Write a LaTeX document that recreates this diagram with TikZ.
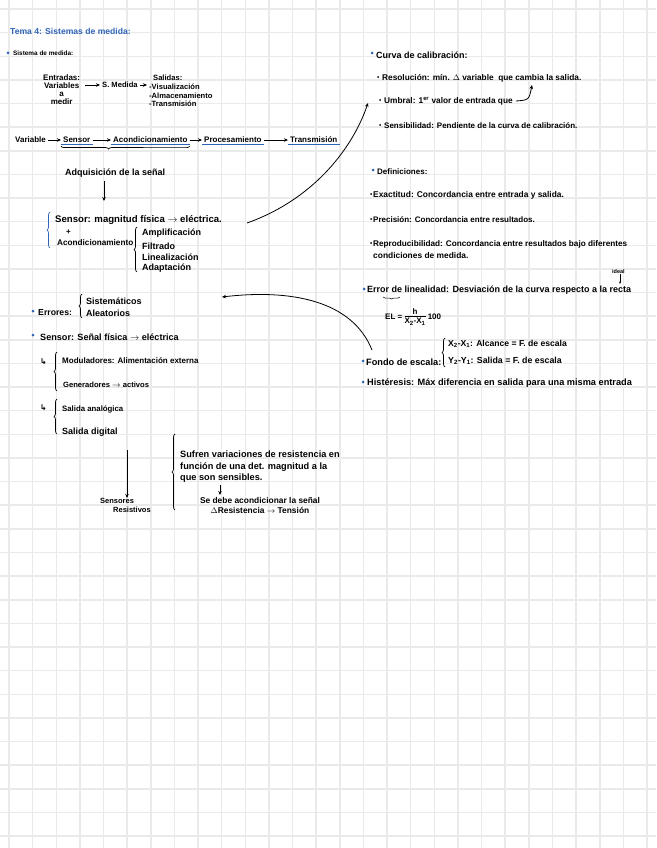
\documentclass[tikz,border=0pt]{standalone}
\usepackage{fontspec}
\setmainfont{Liberation Sans}
\newfontfamily\symfont{DejaVu Sans}
\usetikzlibrary{arrows.meta,positioning,decorations.pathreplacing}
\definecolor{inkblue}{HTML}{2F63B5}
\definecolor{gridgray}{HTML}{EAEAEA}
\newcommand{\hand}{\fontsize{8.2}{9}\selectfont\bfseries}
\newcommand{\hook}{{\symfont\fontsize{8}{8}\selectfont ↳}}
\tikzset{
  txt/.style={anchor=west, inner sep=0pt, font=\hand},
  fs/.style={font=\fontsize{#1}{10}\selectfont\bfseries},
  chain/.style={anchor=west, inner xsep=2pt, inner ysep=1pt, fs=8},
  bdot/.style={circle, fill=inkblue, inner sep=0pt, minimum size=3pt},
  kdot/.style={circle, fill=black, inner sep=0pt, minimum size=2pt},
  uline/.style={inkblue, line width=1pt},
  brc/.style={decorate, decoration={brace, amplitude=3pt}, line width=0.7pt},
  ink/.style={line width=0.8pt, -{Stealth[length=4pt,width=3.5pt]}},
}
\begin{document}
\begin{tikzpicture}[x=1pt, y=-1pt]
  \useasboundingbox (0,0) rectangle (656,848);
  % squared paper
  \foreach \k in {0,...,27}
    \draw[gridgray, line width=1.5pt] ({9+23.63*\k},0) -- ({9+23.63*\k},848);
  \foreach \k in {0,...,35}
    \draw[gridgray, line width=1.5pt] (0,{9+23.63*\k}) -- (656,{9+23.63*\k});

  % title
  \node[txt, inkblue, fs=8.6] (title) at (10,31) {Tema 4: Sistemas de medida:};

  % sistema de medida
  \node[bdot] (d1) at (8,53) {};
  \node[txt, fs=6.4] (sm) at (13,53) {Sistema de medida:};
  \node[txt, align=center, font=\fontsize{8}{8}\selectfont\bfseries] (ent) at (43,90) {Entradas:\\Variables\\a\\medir};
  \node[chain, fs=7.6] (smed) at (100,85) {S. Medida};
  \node[txt, align=left, font=\fontsize{7.6}{8.6}\selectfont\bfseries] (sal) at (149,91)
    {\hspace*{4pt}Salidas:\\-Visualización\\-Almacenamiento\\-Transmisión};
  \draw[ink] (ent.east |- smed.west) ++(5pt,0) -- (smed.west);
  \draw[ink] (smed.east) -- ([xshift=-2pt]sal.west |- smed.east);

  % cadena de medida
  \node[chain] (var) at (13,140) {Variable};
  \node[chain] (sen) at (61,140) {Sensor};
  \node[chain] (aco) at (111,140) {Acondicionamiento};
  \node[chain] (pro) at (202,140) {Procesamiento};
  \node[chain] (tra) at (288,140) {Transmisión};
  \foreach \a/\b in {var/sen, sen/aco, aco/pro, pro/tra}
    \draw[ink] (\a) -- (\b);
  \foreach \n in {sen, aco, pro, tra}
    \draw[uline] (\n.south west) -- (\n.south east);
  \draw[brc, decoration={aspect=0.63}] ([yshift=-2pt]aco.south east) -- ([yshift=-2pt]sen.south west);
  \node[txt, fs=9] (adq) at (65,173) {Adquisición de la señal};
  \coordinate (adqend) at (104,201);
  \draw[ink] (adq.south -| adqend) ++(0,4) -- (adqend);

  % sensor + acondicionamiento
  \node[txt, fs=9.6] (sensl) at (55,220) {Sensor: magnitud física $\rightarrow$ eléctrica.};
  \node[txt, fs=8] (plus) at (66,232) {+};
  \node[txt, fs=8.2] (acol) at (57,243) {Acondicionamiento};
  \draw[brc, inkblue] (50,248) -- (50,212);
  \draw[brc] (137,272) -- (137,227);
  \node[txt, fs=9] (amp) at (142,233) {Amplificación};
  \node[txt, fs=9] (fil) at (142,246) {Filtrado};
  \node[txt, fs=9] (lin) at (142,257) {Linealización};
  \node[txt, fs=9] (ada) at (142,268) {Adaptación};
  \coordinate (arcA) at (247,223);
  \coordinate (arcB) at (368,103);
  \draw[ink] (arcA) .. controls (312,200) and (352,150) .. (arcB);

  % errores
  \node[bdot] (d2) at (33,311) {};
  \node[txt, fs=8.7] (err) at (38,313) {Errores:};
  \draw[brc] (82,318) -- (82,294);
  \node[txt, fs=9] (sis) at (86,301) {Sistemáticos};
  \node[txt, fs=9] (ale) at (86,313) {Aleatorios};
  \coordinate (arcC) at (372,350);
  \coordinate (arcD) at (222,297);
  \draw[ink] (arcC) .. controls (352,300) and (290,289) .. (arcD);

  % sensor: tipos
  \node[bdot] (d3) at (33,335) {};
  \node[txt, fs=9.1] (sen2) at (40,337) {Sensor: Señal física $\rightarrow$ eléctrica};
  \node[txt] (h1) at (40,362) {\hook};
  \draw[brc] (57,391) -- (57,352);
  \node[txt, fs=8] (mod) at (62,361) {Moduladores: Alimentación externa};
  \node[txt, fs=7.6] (gen) at (63,385) {Generadores $\rightarrow$ activos};
  \node[txt] (h2) at (40,408) {\hook};
  \draw[brc] (57,434) -- (57,399);
  \node[txt, fs=7.8] (san) at (62,409) {Salida analógica};
  \node[txt, fs=9] (sdi) at (62,432) {Salida digital};
  \node[txt, anchor=north west, align=left, font=\fontsize{7.5}{9}\selectfont\bfseries] (sr) at (100,498) {Sensores\\\hspace*{13pt}Resistivos};
  \coordinate (srtop) at (127,450);
  \draw[ink] (srtop) -- (sr.north -| srtop);
  \draw[brc] (175,510) -- (175,434);
  \node[txt, anchor=north west, align=left, font=\fontsize{9.2}{11.5}\selectfont\bfseries] (suf) at (180,451)
    {Sufren variaciones de resistencia en\\función de una det. magnitud a la\\que son sensibles.};
  \node[txt, anchor=north, align=center, font=\fontsize{8.4}{10.5}\selectfont\bfseries] (deb) at (260,497)
    {Se debe acondicionar la señal\\$\Delta$Resistencia $\rightarrow$ Tensión};
  \coordinate (sufdown) at (220,0);
  \draw[ink, line width=0.6pt] ([yshift=-2pt]suf.south -| sufdown) -- ([yshift=2pt]deb.north -| sufdown);

  % curva de calibracion
  \node[bdot] (d4) at (372,53) {};
  \node[txt, fs=9] (cur) at (376,55) {Curva de calibración:};
  \node[kdot] (k1) at (378,77) {};
  \node[txt, fs=8.3] (res) at (382,78) {Resolución: mín. $\Delta$ variable \ que cambia la salida.};
  \node[kdot] (k2) at (380,100) {};
  \node[txt, fs=8.3] (umb) at (384,101) {Umbral: 1\textsuperscript{er} valor de entrada que};
  \coordinate (cambia) at (532,85);
  \draw[ink] ([xshift=3pt]umb.east) .. controls (529,100) .. (cambia);
  \node[kdot] (k3) at (380,125) {};
  \node[txt, fs=8] (sib) at (384,126) {Sensibilidad: Pendiente de la curva de calibración.};

  % definiciones
  \node[bdot] (d5) at (373,170) {};
  \node[txt, fs=8] (def) at (377,172) {Definiciones:};
  \node[kdot] (k4) at (371,194) {};
  \node[txt, fs=8.4] (exa) at (373,195) {Exactitud: Concordancia entre entrada y salida.};
  \node[kdot] (k5) at (371,219) {};
  \node[txt, fs=8] (pre) at (373,220) {Precisión: Concordancia entre resultados.};
  \node[kdot] (k6) at (371,243) {};
  \node[txt, fs=8.2] (rep) at (373,244) {Reproducibilidad: Concordancia entre resultados bajo diferentes};
  \node[txt, fs=8.4] (rep2) at (373,255) {condiciones de medida.};

  % error de linealidad
  \node[txt, fs=5.5] (ideal) at (612,272) {ideal};
  \coordinate (recta) at (620,284);
  \draw[ink, line width=0.5pt, -{Stealth[length=2.5pt,width=2pt]}] (ideal.south -| recta) -- (recta);
  \node[bdot] (d6) at (364,289) {};
  \node[txt, fs=9] (lin2) at (367,290) {Error de linealidad: Desviación de la curva respecto a la recta};
  \draw[brc, line width=0.5pt, decoration={amplitude=2pt}] (400,297) -- (383,297);
  \node[txt, fs=8] (el) at (385,317) {EL = \begin{tabular}{@{}c@{}}h\\[-1pt]\hline X\textsubscript{2}-X\textsubscript{1}\end{tabular} 100};

  % fondo de escala
  \node[bdot] (d7) at (363,361) {};
  \node[txt, fs=9.2] (fon) at (366,362) {Fondo de escala:};
  \draw[brc] (445,367) -- (445,338);
  \node[txt, fs=8.6] (alc) at (448,344) {X\textsubscript{2}-X\textsubscript{1}: Alcance = F. de escala};
  \node[txt, fs=8.8] (sfe) at (448,361) {Y\textsubscript{2}-Y\textsubscript{1}: Salida = F. de escala};

  % histeresis
  \node[bdot] (d8) at (363,382) {};
  \node[txt, fs=9.2] (his) at (367,383) {Histéresis: Máx diferencia en salida para una misma entrada};
\end{tikzpicture}
\end{document}
